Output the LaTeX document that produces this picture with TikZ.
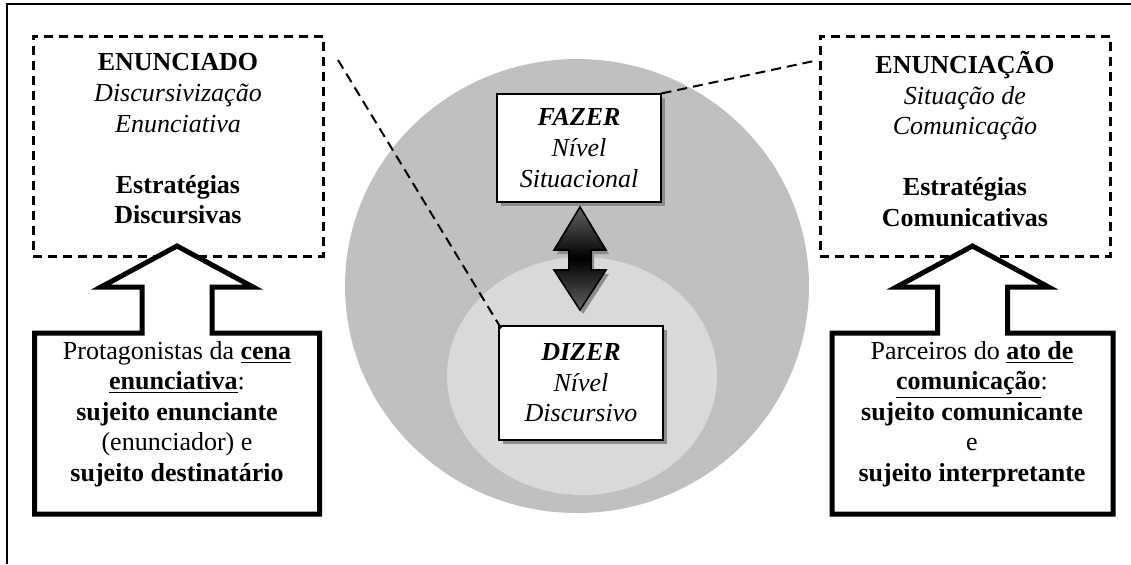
\documentclass[tikz,border=0pt]{standalone}
\usepackage{fontspec}
\setmainfont{Liberation Serif}
\usetikzlibrary{shadows}
\definecolor{outergray}{RGB}{192,192,192}
\definecolor{innergray}{RGB}{217,217,217}

\begin{document}
\begin{tikzpicture}[x=0.5pt,y=-0.5pt,
    every node/.style={font=\fontsize{13}{15.3}\selectfont, align=center},
    dashbox/.style={draw, line width=1.5pt, dash pattern=on 4.5pt off 3pt,
        minimum width=145pt, minimum height=110pt},
    levelbox/.style={draw, fill=white, line width=0.6pt, minimum width=82pt,
        drop shadow={shadow xshift=2pt, shadow yshift=-2pt, fill=black!45, opacity=1}},
    blockarrow/.style={draw, fill=white, line width=2.5pt, line join=miter},
    linkline/.style={line width=1pt, dash pattern=on 5pt off 3pt}]
    \useasboundingbox (0,0) rectangle (1131,564);

    % moldura
    \draw[line width=1pt] (7,564) -- (7,4) -- (1131,4);

    % os dois círculos
    \fill[outergray] (577,286) ellipse [x radius=232, y radius=227];
    \fill[innergray] (582,376) ellipse [x radius=135, y radius=119];

    % caixas tracejadas
    \node[dashbox] (enunciado) at (178,146) {};
    \node (enunciadotxt) at (178,139) {\textbf{ENUNCIADO}\\\textit{Discursivização}\\\textit{Enunciativa}\\[15.3pt]\textbf{Estratégias}\\\textbf{Discursivas}};
    \node[dashbox] (enunciacao) at (965,146) {};
    \node (enunciacaotxt) at (965,139) {\textbf{ENUNCIAÇÃO}\\\textit{Situação de}\\\textit{Comunicação}\\[15.3pt]\textbf{Estratégias}\\\textbf{Comunicativas}};

    % setas em bloco
    \foreach \cx/\hw in {177/142.5, 972.5/140.5}
        \draw[blockarrow] (\cx-\hw,514) -- (\cx-\hw,333) -- (\cx-35,333) -- (\cx-35,287)
            -- (\cx-76,287) -- (\cx,246) -- (\cx+76,287) -- (\cx+35,287) -- (\cx+35,333)
            -- (\cx+\hw,333) -- (\cx+\hw,514) -- cycle;
    \node (protagonistas) at (177,414) {Protagonistas da \underline{\textbf{cena}}\\\underline{\textbf{enunciativa}}:\\\textbf{sujeito enunciante}\\(enunciador) e\\\textbf{sujeito destinatário}};
    \node (parceiros) at (972,414) {Parceiros do \underline{\textbf{ato de}}\\\underline{\textbf{comunicação}}:\\\textbf{sujeito comunicante}\\e\\\textbf{sujeito interpretante}};

    % níveis
    \node[levelbox, minimum height=54pt] (fazer) at (579,148) {\textbf{\textit{FAZER}}\\\textit{Nível}\\\textit{Situacional}};
    \node[levelbox, minimum height=57pt] (dizer) at (581,383) {\textbf{\textit{DIZER}}\\\textit{Nível}\\\textit{Discursivo}};

    % seta dupla
    \begin{scope}[shift={(3,4)}]
        \fill[black!45] (580,207) -- (606,250) -- (591,250) -- (591,270) -- (606,270) -- (580,310)
            -- (554,270) -- (569,270) -- (569,250) -- (554,250) -- cycle;
    \end{scope}
    \shadedraw[top color=black!62, bottom color=black!62, middle color=black, line width=0.8pt]
        (580,207) -- (606,250) -- (591,250) -- (591,270) -- (606,270) -- (580,310)
        -- (554,270) -- (569,270) -- (569,250) -- (554,250) -- cycle;

    % linhas tracejadas
    \coordinate (leftend) at (338,60);
    \coordinate (rightend) at (814,61);
    \draw[linkline] (leftend) -- ([xshift=2pt,yshift=-2.5pt]dizer.north west);
    \draw[linkline] (fazer.north east) -- (rightend);
\end{tikzpicture}
\end{document}
